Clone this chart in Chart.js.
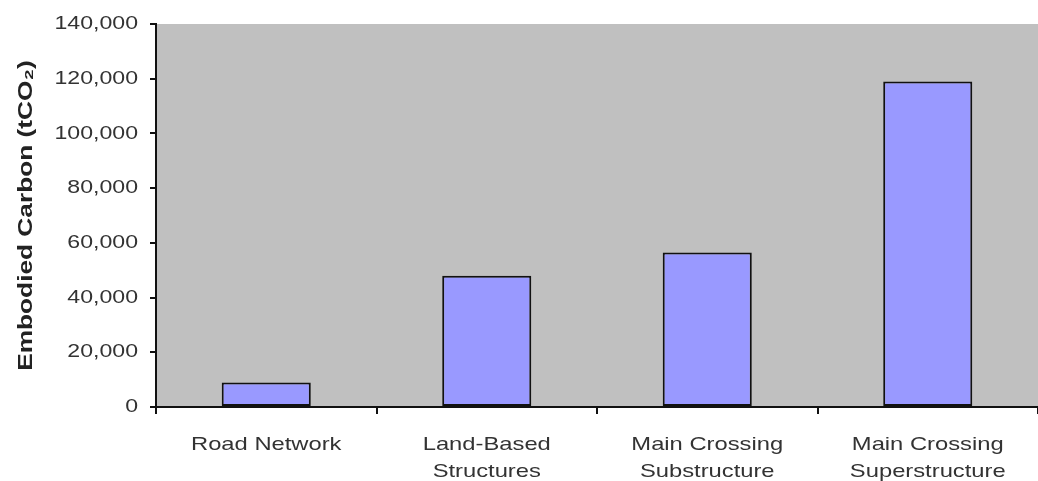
<!DOCTYPE html>
<html>
<head>
<meta charset="utf-8">
<script src="https://cdn.jsdelivr.net/npm/chart.js@4.4.0/dist/chart.umd.min.js"></script>
<style>
  html, body { margin: 0; padding: 0; background: #fff; }
  #wrap { width: 1038px; height: 481px; }
</style>
</head>
<body>
<div id="wrap"><canvas id="chart"></canvas></div>
<script>
// categories and values (tCO2)
const categories = [
  ["Road Network"],
  ["Land-Based", "Structures"],
  ["Main Crossing", "Substructure"],
  ["Main Crossing", "Superstructure"]
];
const embodiedCarbon = [9000, 48000, 56500, 119000];
const yTicks = [0, 20000, 40000, 60000, 80000, 100000, 120000, 140000];

const fmt = (v) => Number(v).toLocaleString("en-US");
const FONT = "Liberation Sans, Arial, sans-serif";

// grey plot background
const plotBg = {
  id: "plotBg",
  beforeDraw(chart) {
    const { ctx, chartArea: a } = chart;
    ctx.save();
    ctx.fillStyle = "#c0c0c0";
    ctx.fillRect(a.left, a.top, a.right - a.left, a.bottom - a.top);
    ctx.restore();
  }
};

const ctx = document.getElementById("chart").getContext("2d");

// text in the original is stretched sideways; scale glyphs around their anchor
const SX = 1.25;
const origFill = ctx.fillText;
const origMeasure = ctx.measureText;
ctx.fillText = function (t, x, y, mw) {
  this.save();
  this.translate(x, y);
  this.scale(SX, 1);
  if (mw === undefined) origFill.call(this, t, 0, 0);
  else origFill.call(this, t, 0, 0, mw / SX);
  this.restore();
};
ctx.measureText = function (t) {
  const m = origMeasure.call(this, t);
  return {
    width: m.width * SX,
    actualBoundingBoxAscent: m.actualBoundingBoxAscent,
    actualBoundingBoxDescent: m.actualBoundingBoxDescent,
    actualBoundingBoxLeft: m.actualBoundingBoxLeft * SX,
    actualBoundingBoxRight: m.actualBoundingBoxRight * SX
  };
};

new Chart(ctx, {
  type: "bar",
  data: {
    labels: categories,
    datasets: [{
      data: embodiedCarbon,
      backgroundColor: "#9999ff",
      borderColor: "#111",
      borderWidth: 2,
      borderSkipped: false,
      categoryPercentage: 1,
      barPercentage: 0.404
    }]
  },
  options: {
    responsive: true,
    maintainAspectRatio: false,
    animation: false,
    layout: { padding: { left: 12, top: 24, right: 0, bottom: 0 } },
    plugins: { legend: { display: false }, tooltip: { enabled: false } },
    scales: {
      x: {
        afterFit(scale) { scale.height = 74; },
        border: { color: "#111", width: 2 },
        grid: { drawOnChartArea: false, drawTicks: true, tickLength: 7, color: "#111", lineWidth: 2, offset: true },
        ticks: {
          color: "#333",
          padding: 17,
          font: { family: FONT, size: 19, lineHeight: 1.42 },
          maxRotation: 0
        }
      },
      y: {
        min: 0,
        max: 140000,
        afterFit(scale) { scale.width = 144; },
        afterBuildTicks(scale) { scale.ticks = yTicks.map(v => ({ value: v })); },
        border: { color: "#111", width: 2 },
        grid: { drawOnChartArea: false, drawTicks: true, tickLength: 6, color: "#111", lineWidth: 2 },
        ticks: {
          color: "#333",
          padding: 12,
          font: { family: FONT, size: 18.5 },
          callback: (v) => fmt(v)
        },
        title: {
          display: true,
          text: "Embodied Carbon (tCO\u2082)",
          color: "#222",
          font: { family: FONT, size: 21, weight: "bold" },
          padding: { top: 2, bottom: 4 }
        }
      }
    }
  },
  plugins: [plotBg]
});
</script>
</body>
</html>
